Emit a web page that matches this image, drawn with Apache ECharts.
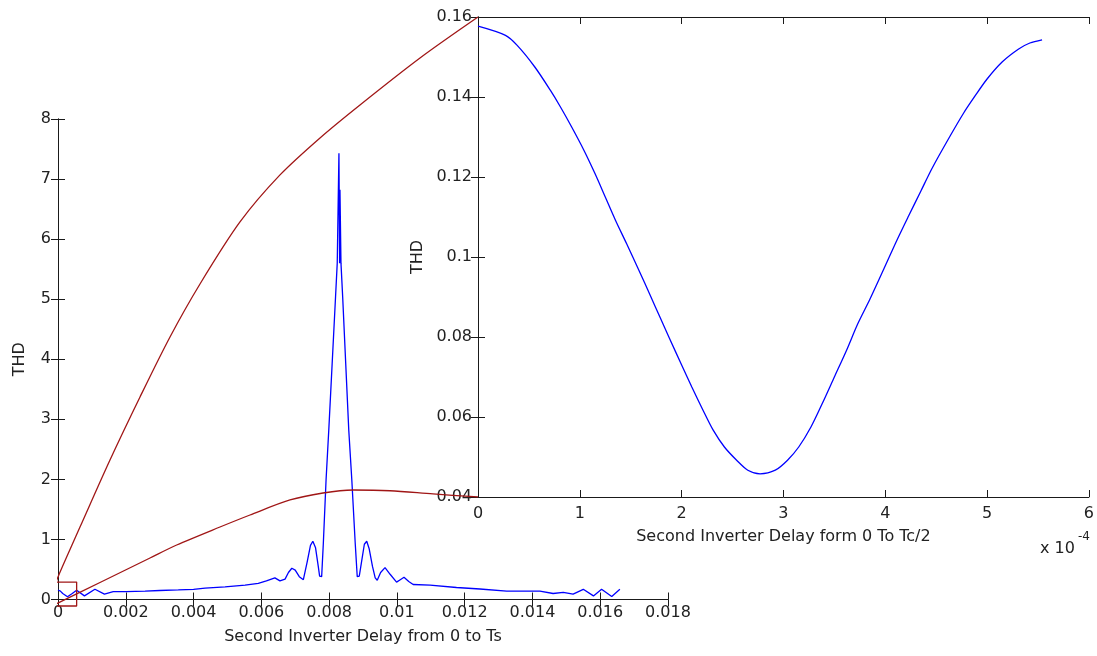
<!DOCTYPE html>
<html>
<head>
<meta charset="utf-8">
<script src="https://cdn.jsdelivr.net/npm/echarts@6/dist/echarts.min.js"></script>
<style>
html,body{margin:0;padding:0;background:#fff;}
#chart{width:1097px;height:656px;}
</style>
</head>
<body>
<div id="chart"></div>
<script>
// Main plot: THD vs delay 0..Ts
const mainDelay = [0, 0.00007, 0.00014, 0.00028, 0.00042, 0.00055, 0.00078, 0.00109, 0.00137, 0.00163, 0.0020, 0.00257, 0.0030, 0.00355, 0.0040, 0.00434, 0.00493, 0.00552, 0.00591, 0.00615, 0.0064, 0.00655, 0.0067, 0.0068, 0.0069, 0.0070, 0.00712, 0.00724, 0.00735, 0.00745, 0.00752, 0.0076, 0.00768, 0.00772, 0.00778, 0.00783, 0.00791, 0.00799, 0.00809, 0.00819, 0.00824, 0.00829, 0.00831, 0.00832, 0.00835, 0.0084, 0.00849, 0.00858, 0.00867, 0.00877, 0.00883, 0.00889, 0.00895, 0.00904, 0.00911, 0.00918, 0.00928, 0.00936, 0.00942, 0.00952, 0.00965, 0.0098, 0.00999, 0.0101, 0.01021, 0.01035, 0.01048, 0.01098, 0.01176, 0.01245, 0.01324, 0.01422, 0.01461, 0.01491, 0.0152, 0.0155, 0.0158, 0.01604, 0.01634, 0.01658];
const mainTHD = [0.158, 0.14, 0.10, 0.046, 0.10, 0.154, 0.06, 0.17, 0.09, 0.13, 0.13, 0.14, 0.15, 0.16, 0.17, 0.19, 0.21, 0.24, 0.27, 0.31, 0.36, 0.31, 0.34, 0.45, 0.52, 0.49, 0.38, 0.33, 0.62, 0.90, 0.97, 0.86, 0.55, 0.39, 0.38, 0.94, 1.99, 2.82, 3.93, 5.04, 5.6, 7.43, 5.6, 6.82, 5.6, 5.04, 3.93, 2.82, 1.99, 0.94, 0.38, 0.39, 0.60, 0.92, 0.97, 0.85, 0.55, 0.36, 0.32, 0.45, 0.53, 0.42, 0.29, 0.33, 0.37, 0.30, 0.25, 0.24, 0.20, 0.175, 0.14, 0.14, 0.10, 0.12, 0.09, 0.17, 0.06, 0.17, 0.05, 0.17];

// Inset: THD vs delay 0..Tc/2 (x in units of 1e-4 s)
const insetDelayE4 = [0, 0.27, 0.385, 0.558, 0.71, 0.81, 0.92, 1.04, 1.15, 1.25, 1.35, 1.46, 1.58, 1.69, 1.79, 1.88, 2.0, 2.10, 2.21, 2.31, 2.42, 2.54, 2.65, 2.77, 2.92, 3.04, 3.15, 3.27, 3.38, 3.5, 3.62, 3.73, 3.85, 4.0, 4.12, 4.23, 4.35, 4.46, 4.62, 4.77, 4.88, 5.0, 5.15, 5.31, 5.42, 5.54];
const insetTHD = [0.1577, 0.1554, 0.1529, 0.1475, 0.1417, 0.1375, 0.1325, 0.1267, 0.1208, 0.115, 0.1092, 0.1033, 0.0967, 0.0905, 0.0848, 0.0797, 0.073, 0.0675, 0.0617, 0.0567, 0.0525, 0.0492, 0.0467, 0.0458, 0.0467, 0.0492, 0.0525, 0.0575, 0.0633, 0.07, 0.0767, 0.0833, 0.0895, 0.0978, 0.1045, 0.1103, 0.1165, 0.1222, 0.1295, 0.136, 0.1402, 0.1445, 0.1488, 0.152, 0.1535, 0.1543];

// Zoom-indicator lines, in main-plot data coordinates
const zoomUpperX = [-0.000148, 0, 0.000413, 0.000649, 0.001534, 0.00242, 0.003305, 0.00419, 0.00537, 0.006551, 0.007731, 0.008911, 0.010682, 0.012393];
const zoomUpperY = [0.158, 0.375, 0.907, 1.207, 2.323, 3.372, 4.371, 5.253, 6.286, 7.069, 7.685, 8.234, 9.016, 9.698];
const zoomLowerX = [-0.000177, 0.001239, 0.002715, 0.003502, 0.00478, 0.005666, 0.006846, 0.00782, 0.008705, 0.009797, 0.011066, 0.012393];
const zoomLowerY = [-0.108, 0.283, 0.691, 0.907, 1.207, 1.407, 1.657, 1.773, 1.823, 1.811, 1.757, 1.707];
const zoomBoxX = [-0.000186, 0.00055, 0.00055, -0.000186, -0.000186];
const zoomBoxY = [-0.108, -0.108, 0.29, 0.29, -0.108];

const pairs = (xs, ys, k) => xs.map((x, i) => [x * (k || 1), ys[i]]);

const FONT = 'DejaVu Sans';
const AX = '#1a1a1a';
const BLUE = '#0000ff';
const RED = '#a01616';

const tickStyle = () => ({show: true, inside: true, length: 7, lineStyle: {color: AX}});
const lineStyle = () => ({show: true, lineStyle: {color: AX, width: 1}});
const lbl = (m) => ({margin: m, color: '#222', fontFamily: FONT, fontSize: 16});
const nameStyle = () => ({color: '#222', fontFamily: FONT, fontSize: 16});

const chart = echarts.init(document.getElementById('chart'), null, {renderer: 'canvas'});
chart.setOption({
  animation: false,
  backgroundColor: '#fff',
  grid: [
    {left: 58, top: 119, width: 610, height: 480.5, containLabel: false},
    {left: 478, top: 17, width: 611, height: 480, containLabel: false}
  ],
  xAxis: [
    {gridIndex: 0, type: 'value', min: 0, max: 0.018, interval: 0.002, position: 'bottom', z: 1,
     axisLine: lineStyle(), axisTick: tickStyle(), splitLine: {show: false},
     axisLabel: lbl(5),
     name: 'Second Inverter Delay from 0 to Ts', nameLocation: 'middle', nameGap: 29,
     nameTextStyle: nameStyle()},
    {gridIndex: 0, type: 'value', min: 0, max: 0.018, interval: 0.002, position: 'top', z: 1,
     axisLine: lineStyle(), axisTick: tickStyle(), splitLine: {show: false}, axisLabel: {show: false}},
    {gridIndex: 1, type: 'value', min: 0, max: 0.0006, interval: 0.0001, position: 'bottom', z: 10,
     axisLine: lineStyle(), axisTick: tickStyle(), splitLine: {show: false},
     axisLabel: Object.assign(lbl(9), {formatter: v => String(Math.round(v * 1e4))}),
     name: 'Second Inverter Delay form 0 To Tc/2', nameLocation: 'middle', nameGap: 32,
     nameTextStyle: nameStyle()},
    {gridIndex: 1, type: 'value', min: 0, max: 0.0006, interval: 0.0001, position: 'top', z: 10,
     axisLine: lineStyle(), axisTick: tickStyle(), splitLine: {show: false}, axisLabel: {show: false}}
  ],
  yAxis: [
    {gridIndex: 0, type: 'value', min: 0, max: 8, interval: 1, position: 'left', z: 1,
     axisLine: lineStyle(), axisTick: tickStyle(), splitLine: {show: false},
     axisLabel: lbl(7),
     name: 'THD', nameLocation: 'middle', nameGap: 30, nameRotate: 90,
     nameTextStyle: nameStyle()},
    {gridIndex: 0, type: 'value', min: 0, max: 8, interval: 1, position: 'right', z: 1,
     axisLine: lineStyle(), axisTick: tickStyle(), splitLine: {show: false}, axisLabel: {show: false}},
    {gridIndex: 1, type: 'value', min: 0.04, max: 0.16, interval: 0.02, position: 'left', z: 10,
     axisLine: lineStyle(), axisTick: tickStyle(), splitLine: {show: false},
     axisLabel: lbl(6),
     name: 'THD', nameLocation: 'middle', nameGap: 52, nameRotate: 90,
     nameTextStyle: nameStyle()},
    {gridIndex: 1, type: 'value', min: 0.04, max: 0.16, interval: 0.02, position: 'right', z: 10,
     axisLine: lineStyle(), axisTick: tickStyle(), splitLine: {show: false}, axisLabel: {show: false}}
  ],
  graphic: [
    {type: 'rect', z: 5, silent: true, shape: {x: 375, y: 0, width: 722, height: 562}, style: {fill: '#fff'}},
    {type: 'text', z: 15, left: 1040, top: 541, style: {text: 'x 10', fill: '#222', font: '16px "DejaVu Sans"'}},
    {type: 'text', z: 15, left: 1078, top: 531, style: {text: '-4', fill: '#222', font: '12px "DejaVu Sans"'}}
  ],
  series: [
    {type: 'line', xAxisIndex: 0, yAxisIndex: 0, z: 2, data: pairs(mainDelay, mainTHD),
     showSymbol: false, clip: false, lineStyle: {color: BLUE, width: 1.3}},
    {type: 'line', xAxisIndex: 2, yAxisIndex: 2, z: 11, data: pairs(insetDelayE4, insetTHD, 1e-4),
     showSymbol: false, smooth: 0.3, lineStyle: {color: BLUE, width: 1.3}},
    {type: 'line', xAxisIndex: 0, yAxisIndex: 0, z: 20, data: pairs(zoomUpperX, zoomUpperY),
     showSymbol: false, clip: false, smooth: 0.3, lineStyle: {color: RED, width: 1.3}},
    {type: 'line', xAxisIndex: 0, yAxisIndex: 0, z: 20, data: pairs(zoomLowerX, zoomLowerY),
     showSymbol: false, clip: false, smooth: 0.3, lineStyle: {color: RED, width: 1.3}},
    {type: 'line', xAxisIndex: 0, yAxisIndex: 0, z: 20, data: pairs(zoomBoxX, zoomBoxY),
     showSymbol: false, clip: false, lineStyle: {color: RED, width: 1.3}}
  ]
});
</script>
</body>
</html>
